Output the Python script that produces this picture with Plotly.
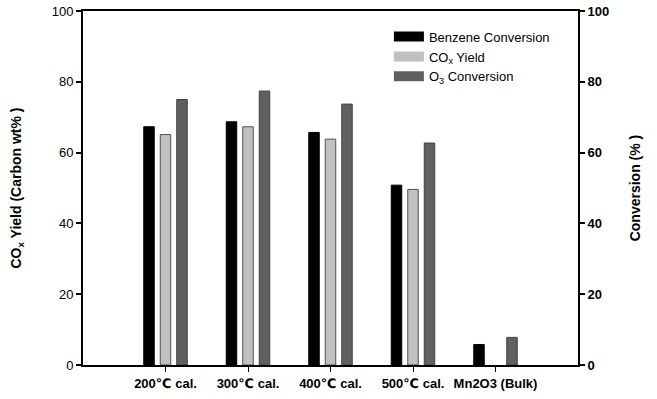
import plotly.graph_objects as go

categories = ["200℃ cal.", "300℃ cal.", "400℃ cal.", "500℃ cal.", "Mn2O3 (Bulk)"]
benzene_conversion = [67.3, 68.7, 65.7, 50.8, 5.8]
cox_yield = [65.1, 67.3, 63.8, 49.6, None]
o3_conversion = [75.0, 77.4, 73.7, 62.7, 7.8]
y_ticks = [0, 20, 40, 60, 80, 100]

FONT = "Liberation Sans, Arial, DejaVu Sans, sans-serif"
W = 0.127
STEP = 0.2

fig = go.Figure()
series = [
    ("Benzene Conversion", benzene_conversion, "#000000", "#000000", "y2", -STEP),
    ("CO<sub>x</sub> Yield", cox_yield, "#c0c0c0", "#505050", "y", 0.0),
    ("O<sub>3</sub> Conversion", o3_conversion, "#606060", "#404040", "y2", STEP),
]
for name, vals, col, line, yax, shift in series:
    fig.add_trace(go.Bar(
        x=categories, y=vals, name=name, yaxis=yax,
        marker=dict(color=col, line=dict(color=line, width=1)),
        width=W, offset=shift - W / 2, showlegend=False,
    ))
    fig.add_trace(go.Scatter(
        x=[None], y=[None], name=name, mode="lines", yaxis=yax,
        line=dict(color=col, width=10), showlegend=True,
    ))

fig.update_layout(
    width=657, height=399,
    margin=dict(l=83, r=79, t=11, b=34, autoexpand=False),
    plot_bgcolor="white", paper_bgcolor="white",
    barmode="overlay",
    font=dict(family=FONT, size=13, color="black"),
    showlegend=True,
    legend=dict(x=0.618, y=0.97, xanchor="left", yanchor="top",
                bgcolor="rgba(0,0,0,0)", font=dict(size=13),
                itemwidth=30, tracegroupgap=0),
    xaxis=dict(
        type="category", range=[-1, 5], automargin=False,
        showline=True, linecolor="black", linewidth=2, mirror=True,
        ticks="outside", ticklen=5, tickwidth=1, tickcolor="black",
        tickfont=dict(family=FONT, size=13, color="black", weight="bold"),
        showgrid=False, zeroline=False,
    ),
    yaxis=dict(
        range=[0, 100], tickvals=y_ticks, automargin=False,
        showline=True, linecolor="black", linewidth=2,
        ticks="outside", ticklen=5, tickwidth=1.5, tickcolor="black",
        tickfont=dict(family=FONT, size=13, color="black"),
        showgrid=False, zeroline=False,
        title=dict(text="CO<sub>x</sub> Yield (Carbon wt% )",
                   font=dict(family=FONT, size=14, weight="bold"), standoff=27),
    ),
    yaxis2=dict(
        range=[0, 100], tickvals=y_ticks, overlaying="y", side="right",
        automargin=False,
        showline=True, linecolor="black", linewidth=2,
        ticks="outside", ticklen=5, tickwidth=1.5, tickcolor="black",
        tickfont=dict(family=FONT, size=13, color="black", weight="bold"),
        showgrid=False, zeroline=False,
        title=dict(text="Conversion (% )",
                   font=dict(family=FONT, size=14, weight="bold"), standoff=22),
    ),
)

fig.write_html("out.html", config={"displayModeBar": False},
               post_script="document.body.style.margin='0';document.body.style.padding='0';")
